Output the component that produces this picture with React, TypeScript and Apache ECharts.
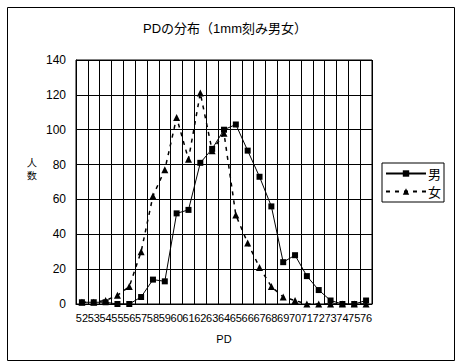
import React, { useEffect, useRef } from "react";
import * as echarts from "echarts";

const categories = ["52","53","54","55","56","57","58","59","60","61","62","63","64","65","66","67","68","69","70","71","72","73","74","75","76"];
const maleValues = [1,1,1,0,0,4,14,13,52,54,81,89,100,103,88,73,56,24,28,16,8,2,0,0,2];
const femaleValues = [1,1,2,5,10,30,62,77,107,83,121,88,98,51,35,21,10,4,2,0,0,0,0,0,0];
const yTicks = { min: 0, max: 140, interval: 20 };
const titleText = "PDの分布（1mm刻み男女）";
const xName = "PD";
const yName = "人\n数";
const seriesNames = ["男", "女"];

const FONT = "'Liberation Sans', 'Noto Sans CJK JP', sans-serif";

export default function App() {
  const ref = useRef<HTMLDivElement>(null);
  useEffect(() => {
    if (!ref.current) return;
    const chart = echarts.init(ref.current, null, { renderer: "svg" });
    chart.setOption({
      animation: false,
      backgroundColor: "#fff",
      textStyle: { fontFamily: FONT, color: "#000" },
      title: {
        text: titleText,
        left: 220,
        top: 17,
        textAlign: "center",
        textStyle: { fontSize: 13, fontWeight: "normal", color: "#000", fontFamily: FONT },
      },
      graphic: [
        {
          type: "rect",
          left: 5,
          top: 5,
          shape: { width: 447, height: 353 },
          style: { fill: "none", stroke: "#000", lineWidth: 1 },
          silent: true,
        },
        {
          type: "text",
          left: 27,
          top: 156,
          style: { text: yName, fontSize: 10, fill: "#000", font: "10px 'Noto Sans CJK JP'", lineHeight: 13 },
        },
      ],
      legend: {
        orient: "vertical",
        left: 382,
        top: 163,
        padding: [4, 3, 4, 3],
        itemGap: 5,
        itemWidth: 40,
        itemHeight: 8,
        borderColor: "#000",
        borderWidth: 1,
        textStyle: { fontSize: 13, color: "#000", fontFamily: "'Noto Sans CJK JP'", padding: [0, 0, 0, -3] },
        data: seriesNames,
      },
      grid: {
        left: 76,
        top: 60,
        right: 87,
        bottom: 59,
        show: true,
        borderColor: "#000",
        borderWidth: 1,
        backgroundColor: "#fff",
      },
      xAxis: {
        type: "category",
        data: categories,
        boundaryGap: true,
        name: xName,
        nameLocation: "middle",
        nameGap: 29,
        nameTextStyle: { fontSize: 11, color: "#000" },
        axisLine: { lineStyle: { color: "#000" } },
        axisTick: { show: false },
        axisLabel: { interval: 0, fontSize: 11, color: "#000", margin: 8, hideOverlap: false },
        splitLine: { show: true, lineStyle: { color: "#000", width: 1 } },
      },
      yAxis: {
        type: "value",
        min: yTicks.min,
        max: yTicks.max,
        interval: yTicks.interval,
        axisLine: { show: true, lineStyle: { color: "#000" } },
        axisTick: { show: false },
        axisLabel: { fontSize: 12, color: "#000", margin: 10 },
        splitLine: { show: true, lineStyle: { color: "#000", width: 1 } },
      },
      series: [
        {
          name: seriesNames[0],
          type: "line",
          data: maleValues,
          symbol: "rect",
          symbolSize: 6,
          itemStyle: { color: "#000" },
          lineStyle: { color: "#000", width: 1 },
          z: 3,
        },
        {
          name: seriesNames[1],
          type: "line",
          data: femaleValues,
          symbol: "triangle",
          symbolSize: 7,
          itemStyle: { color: "#000" },
          lineStyle: { color: "#000", width: 1.5, type: [4, 5] },
          z: 2,
        },
      ],
    });
    return () => chart.dispose();
  }, []);
  return (
    <div
      ref={ref}
      style={{ position: "fixed", left: 0, top: 0, width: 459, height: 363, background: "#fff" }}
    />
  );
}
